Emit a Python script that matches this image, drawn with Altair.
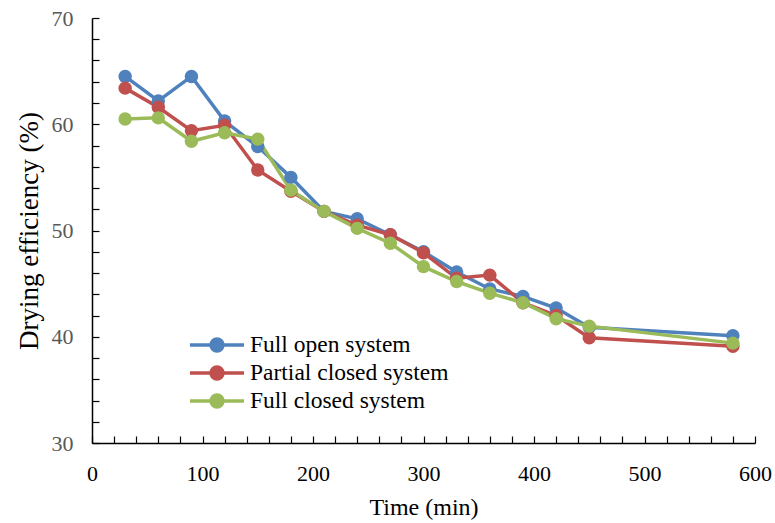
import altair as alt
import pandas as pd

times = [30, 60, 90, 120, 150, 180, 210, 240, 270, 300, 330, 360, 390, 420, 450, 580]
full_open = [64.5, 62.2, 64.5, 60.3, 57.9, 55.0, 51.8, 51.1, 49.6, 48.0, 46.1, 44.5, 43.8, 42.7, 40.9, 40.1]
partial_closed = [63.4, 61.6, 59.4, 59.9, 55.7, 53.7, 51.8, 50.5, 49.6, 47.9, 45.5, 45.8, 43.2, 42.0, 39.9, 39.1]
full_closed = [60.5, 60.6, 58.4, 59.2, 58.6, 53.8, 51.8, 50.2, 48.8, 46.6, 45.2, 44.1, 43.2, 41.7, 41.0, 39.4]

series_names = ["Full open system", "Partial closed system", "Full closed system"]
series_colors = ["#4F81BD", "#C0504D", "#9BBB59"]

x_ticks = list(range(0, 601, 20))
y_ticks = list(range(30, 71, 2))
x_labels = list(range(0, 601, 100))
y_labels = list(range(30, 71, 10))

rows = []
for name, vals in zip(series_names, [full_open, partial_closed, full_closed]):
    for t, v in zip(times, vals):
        rows.append({"time": t, "eff": v, "series": name})
df = pd.DataFrame(rows)

FONT = "Liberation Serif"
W, H = 663, 425

xs = alt.Scale(domain=[0, 600], nice=False)
ys = alt.Scale(domain=[30, 70], nice=False)
col_scale = alt.Scale(domain=series_names, range=series_colors)

x_axis = alt.Axis(values=x_labels, title="Time (min)", tickSize=0, grid=False,
                  labelFont=FONT, labelFontSize=22, labelColor="#000000", labelPadding=20,
                  titleFont=FONT, titleFontSize=24, titleFontWeight="normal", titleColor="#000000",
                  titlePadding=11, domainColor="#000000", domainWidth=1.5, labelFlush=False)
y_axis = alt.Axis(values=y_labels, title="Drying efficiency (%)", tickSize=0, grid=False,
                  labelFont=FONT, labelFontSize=22, labelColor="#595959", labelPadding=19,
                  titleFont=FONT, titleFontSize=27, titleFontWeight="normal", titleColor="#000000",
                  titlePadding=8, domainColor="#000000", domainWidth=1.5)

# inward-pointing tick axes (top axis shifted to the bottom, right axis shifted to the left)
x_tick_axis = alt.Axis(orient="top", offset=-H, values=x_ticks, labels=False, domain=False,
                       grid=False, title=None, tickSize=7, tickWidth=1.2, tickColor="#000000")
y_tick_axis = alt.Axis(orient="right", offset=-W, values=y_ticks, labels=False, domain=False,
                       grid=False, title=None, tickSize=7, tickWidth=1.2, tickColor="#000000")

xt = alt.Chart(pd.DataFrame({"t": x_ticks})).mark_rule(opacity=0).encode(
    x=alt.X("t:Q", scale=xs, axis=x_tick_axis),
)
yt = alt.Chart(pd.DataFrame({"v": y_ticks})).mark_rule(opacity=0).encode(
    y=alt.Y("v:Q", scale=ys, axis=y_tick_axis),
)

sym_path = "M-1,0L1,0M0.22,0A0.22,0.22,0,1,1,-0.22,0A0.22,0.22,0,1,1,0.22,0Z"
legend = alt.Legend(title=None, orient="none", legendX=96, legendY=314,
                    symbolType=sym_path, symbolSize=2916, symbolStrokeWidth=3.5,
                    clipHeight=26, rowPadding=2,
                    labelFont=FONT, labelFontSize=23.5, labelColor="#000000",
                    labelOffset=4, padding=0, labelLimit=400)

lines = alt.Chart(df).mark_line(strokeWidth=3.5).encode(
    x=alt.X("time:Q", scale=xs, axis=x_axis),
    y=alt.Y("eff:Q", scale=ys, axis=y_axis),
    color=alt.Color("series:N", scale=col_scale, legend=legend),
    detail="series:N",
)

points = alt.Chart(df).mark_point(filled=True, size=180, opacity=1).encode(
    x=alt.X("time:Q", scale=xs, axis=None),
    y=alt.Y("eff:Q", scale=ys, axis=None),
    color=alt.Color("series:N", scale=col_scale, legend=legend),
)

chart = alt.layer(xt, yt, lines, points).resolve_axis(
    x="independent", y="independent"
).properties(
    width=W, height=H,
    autosize=alt.AutoSizeParams(type="none"),
    padding={"left": 92, "top": 18, "right": 20, "bottom": 80},
    background="#ffffff",
).configure_view(stroke=None)

chart.save("out.html", embed_options={"renderer": "svg", "actions": False})
